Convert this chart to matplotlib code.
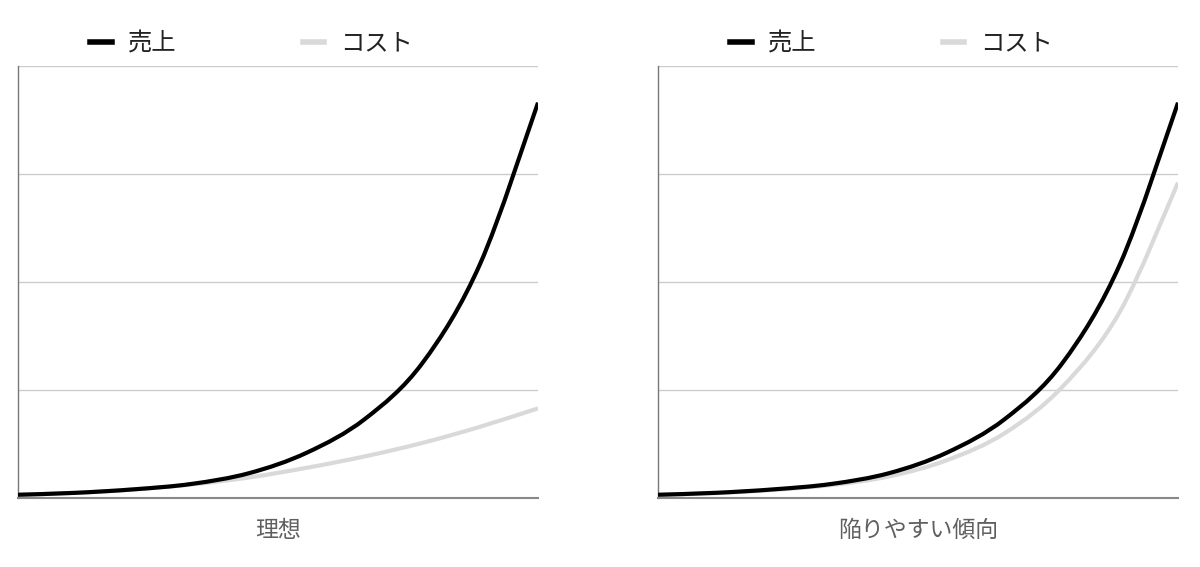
import numpy as np
import matplotlib
matplotlib.use("Agg")
import matplotlib.pyplot as plt
from matplotlib.path import Path
from matplotlib.patches import PathPatch
from matplotlib.lines import Line2D

plt.rcParams['font.family'] = ['Noto Sans CJK JP', 'DejaVu Sans']

# data (one point per period, grid step = 1)
periods = list(range(10))
sales = [0.03, 0.048, 0.08, 0.13, 0.23, 0.42, 0.73, 1.25, 2.17, 3.66]
cost_ideal = [0.03, 0.048, 0.08, 0.125, 0.19, 0.28, 0.385, 0.51, 0.66, 0.83]
cost_trap = [0.028, 0.045, 0.075, 0.12, 0.2, 0.35, 0.6, 1.03, 1.73, 2.92]

panel_titles = ["理想", "陥りやすい傾向"]
legend_labels = ["売上", "コスト"]

BLACK = "#000000"
GRAY = "#d9d9d9"


# smooth curve through the points (catmull-rom as bezier segments)
def smooth_path(xs, ys):
    pts = np.column_stack([xs, ys]).astype(float)
    ext = np.vstack([pts[0], pts, pts[-1]])
    verts = [pts[0]]
    codes = [Path.MOVETO]
    for i in range(len(pts) - 1):
        p0, p1, p2, p3 = ext[i], ext[i + 1], ext[i + 2], ext[i + 3]
        c1 = p1 + (p2 - p0) / 6.0
        c2 = p2 - (p3 - p1) / 6.0
        verts += [c1, c2, p2]
        codes += [Path.CURVE4] * 3
    return Path(verts, codes)


def draw_panel(ax, cost, title):
    ax.add_patch(PathPatch(smooth_path(periods, cost), fill=False,
                           edgecolor=GRAY, lw=3.0, capstyle='butt', zorder=3))
    ax.add_patch(PathPatch(smooth_path(periods, sales), fill=False,
                           edgecolor=BLACK, lw=3.0, capstyle='butt', zorder=4))
    ax.set_xlim(periods[0], periods[-1])
    ax.set_ylim(0, 4)
    ax.set_yticks([0, 1, 2, 3, 4])
    ax.set_xticks([])
    ax.tick_params(left=False, labelleft=False)
    ax.grid(axis='y', color='#cccccc', lw=1)
    ax.set_axisbelow(True)
    for s in ['top', 'right']:
        ax.spines[s].set_visible(False)
    ax.spines['left'].set_color('#777777')
    ax.spines['left'].set_linewidth(1)
    ax.spines['bottom'].set_color('#888888')
    ax.spines['bottom'].set_linewidth(1.5)
    ax.set_xlabel(title, fontsize=16.5, color='#5f5f5f', labelpad=15)

    handles = [Line2D([], [], color=BLACK, lw=4),
               Line2D([], [], color=GRAY, lw=4)]
    ax.legend(handles, legend_labels, ncol=2, frameon=False,
              loc='center left', bbox_to_anchor=(0.138, 1.052),
              borderpad=0, borderaxespad=0, fontsize=17.5,
              handlelength=0.9, handletextpad=0.66, columnspacing=5.2,
              labelcolor='#222222')


fig = plt.figure(figsize=(12, 5.67), dpi=100)
ax1 = fig.add_axes([18 / 1200, 69 / 567, 520 / 1200, 432 / 567])
ax2 = fig.add_axes([658 / 1200, 69 / 567, 520 / 1200, 432 / 567])

draw_panel(ax1, cost_ideal, panel_titles[0])
draw_panel(ax2, cost_trap, panel_titles[1])

fig.savefig("out.png", dpi=100, facecolor='white')
